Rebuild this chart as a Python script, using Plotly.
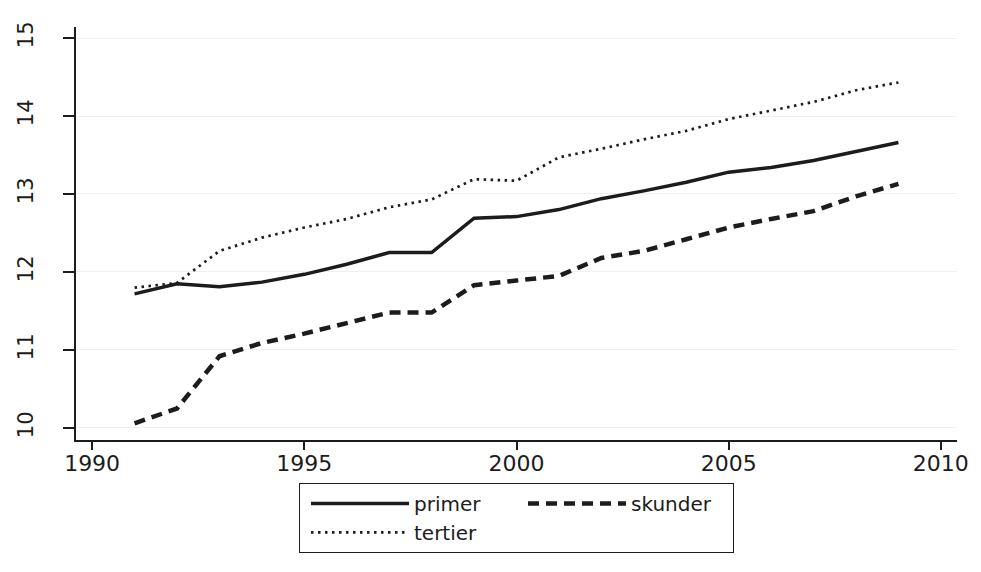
import plotly.graph_objects as go

years = list(range(1991, 2010))
primer = [11.72, 11.85, 11.81, 11.87, 11.97, 12.10, 12.25, 12.25, 12.69, 12.71,
          12.80, 12.94, 13.04, 13.15, 13.28, 13.34, 13.43, 13.55, 13.66]
skunder = [10.06, 10.25, 10.92, 11.09, 11.21, 11.35, 11.48, 11.48, 11.83, 11.89,
           11.95, 12.18, 12.27, 12.42, 12.57, 12.68, 12.78, 12.97, 13.13]
tertier = [11.80, 11.86, 12.27, 12.44, 12.57, 12.68, 12.83, 12.93, 13.19, 13.17,
           13.47, 13.58, 13.70, 13.81, 13.96, 14.07, 14.18, 14.33, 14.43]

x_ticks = [1990, 1995, 2000, 2005, 2010]
y_ticks = [10, 11, 12, 13, 14, 15]

FONT = "DejaVu Sans"
INK = "#1c1c1c"

fig = go.Figure()
fig.add_trace(go.Scatter(x=years, y=primer, mode="lines", name="primer",
                         legendgroup="a",
                         line=dict(color=INK, width=3.5, dash="solid")))
fig.add_trace(go.Scatter(x=years, y=skunder, mode="lines", name="skunder",
                         legendgroup="b",
                         line=dict(color=INK, width=4.5, dash="11px,7px")))
fig.add_trace(go.Scatter(x=years, y=tertier, mode="lines", name="tertier",
                         legendgroup="a",
                         line=dict(color=INK, width=2.7, dash="2.5px,4.5px")))

fig.update_layout(
    width=981, height=572,
    margin=dict(l=76, r=22, t=27, b=132),
    paper_bgcolor="white", plot_bgcolor="white",
    font=dict(family=FONT, size=21, color=INK),
    showlegend=True,
    legend=dict(
        orientation="h", traceorder="grouped", tracegroupgap=0,
        x=0.5, xanchor="center", y=-0.104, yanchor="top",
        bordercolor=INK, borderwidth=1, bgcolor="white",
        indentation=7,
        itemwidth=98, entrywidth=97, entrywidthmode="pixels",
        font=dict(family=FONT, size=20, color=INK),
    ),
    xaxis=dict(
        range=[1989.62, 2010.38], tickmode="array", tickvals=x_ticks,
        ticktext=[str(v) for v in x_ticks],
        showline=True, linecolor=INK, linewidth=1.5,
        ticks="outside", ticklen=8, tickwidth=1.5, tickcolor=INK,
        showgrid=False, zeroline=False, mirror=False,
        ticklabelstandoff=-5,
        tickfont=dict(family=FONT, size=22, color=INK),
    ),
    yaxis=dict(
        range=[9.846, 15.141], tickmode="array", tickvals=y_ticks,
        ticktext=[str(v) for v in y_ticks],
        showline=True, linecolor=INK, linewidth=1.5,
        ticks="outside", ticklen=11, tickwidth=1.5, tickcolor=INK,
        showgrid=True, gridcolor="#f0f0f0", gridwidth=1,
        zeroline=False, mirror=False, tickangle=-90,
        ticklabelstandoff=22,
        tickfont=dict(family=FONT, size=21, color=INK),
    ),
)

fig.write_html("out.html",
               config={"displayModeBar": False},
               post_script="document.body.style.margin='0';document.body.style.padding='0';")
